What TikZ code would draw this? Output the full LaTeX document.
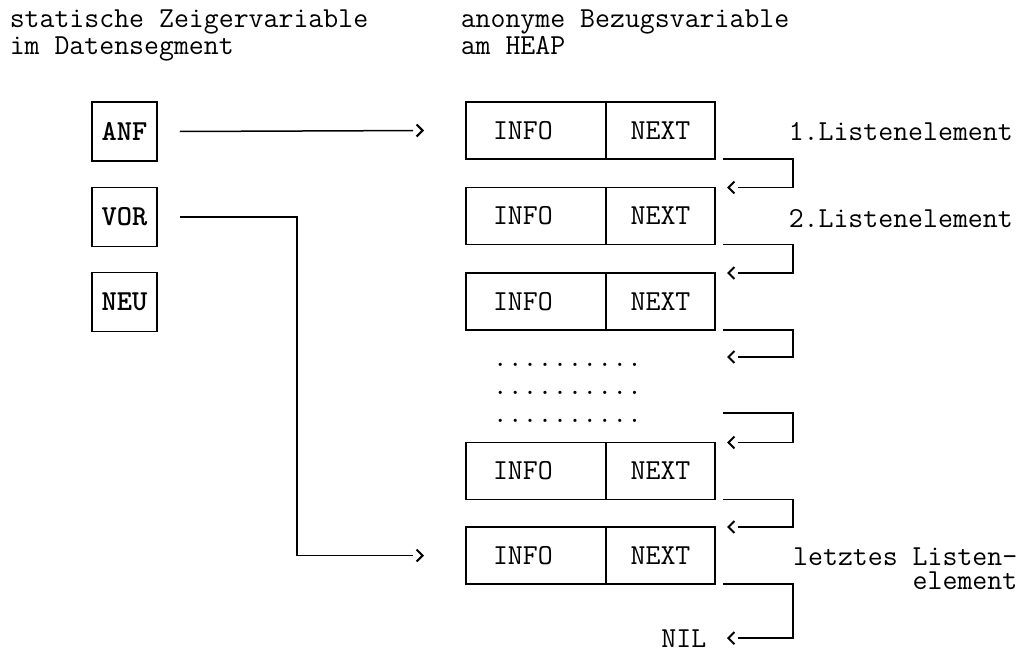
\documentclass[tikz,border=0pt]{standalone}
\usetikzlibrary{arrows.meta}

\newcommand{\listfont}{\ttfamily\fontsize{29}{27}\selectfont}

\tikzset{
  ptrbox/.style={draw, minimum width=65, minimum height=59, inner sep=0pt, font=\listfont\bfseries},
  infocell/.style={draw, outer sep=0pt, minimum height=57, inner xsep=27, inner ysep=0pt,
    text width=86, align=left},
  nextcell/.style={draw, outer sep=0pt, minimum width=109, minimum height=57, inner sep=0pt},
  txt/.style={inner sep=0pt, align=left},
  link/.style={shorten >=11pt},
  chevtip/.style={line width=2pt, -{Straight Barb[length=6pt, width=12pt]}},
}

\begin{document}
\begin{tikzpicture}[x=1pt, y=-1pt, line width=1.5pt, font=\listfont]
    \useasboundingbox (0,0) rectangle (1023,653);

    % headings
    \node[txt, anchor=north west] (hdleft) at (9,9) {statische Zeigervariable\\im Datensegment};
    \node[txt, anchor=north west] (hdright) at (460,9) {anonyme Bezugsvariable\\am HEAP};

    % static pointers
    \node[ptrbox] (anf) at (124.5,131.5) {ANF};
    \node[ptrbox] (vor) at (124.5,217) {VOR};
    \node[ptrbox] (neu) at (124.5,302) {NEU};

    % list elements on the heap
    \foreach \i/\y in {1/130.5, 2/216, 3/301.5, 4/471, 5/555.5} {
        \node[infocell, anchor=east] (info\i) at (606,\y) {INFO};
        \node[nextcell, anchor=west] (next\i) at (info\i.east) {NEXT};
    }
    \node[txt] (dots1) at (567.5,365) {..........};
    \node[txt] (dots2) at (567.5,393) {..........};
    \node[txt] (dots3) at (567.5,421) {..........};

    \node[txt, anchor=base west] (first) at (788,140) {1.Listenelement};
    \node[txt, anchor=base west] (second) at (788,227) {2.Listenelement};
    \node[txt, anchor=north east, align=right, font=\ttfamily\fontsize{29}{24}\selectfont]
        (last) at (1018,547) {letztes Listen-\\element};
    \node[txt, anchor=base east] (nil) at (707,647) {NIL};

    % arrow ends
    \coordinate (anfend) at ([xshift=-42]info1.west);
    \coordinate (vorend) at ([xshift=-42]info5.west);
    \foreach \i in {2,...,5}
        \coordinate (in\i) at ([xshift=12]next\i.north east);
    \coordinate (dotsin) at (727,357);
    \coordinate (dotsout) at (723,413);
    \coordinate (nilin) at ([xshift=20]nil.east);

    % pointers
    \draw[link] ([xshift=22]anf.east) -- (anfend);
    \draw[link] ([xshift=22]vor.east) -- ++(117,0) |- (vorend);

    % NEXT links
    \draw[link] ([xshift=8]next1.south east) -- ++(70,0) |- (in2);
    \draw[link] ([xshift=8]next2.south east) -- ++(70,0) |- (in3);
    \draw[link] ([xshift=8]next3.south east) -- ++(70,0) |- (dotsin);
    \draw[link] (dotsout) -- ++(70,0) |- (in4);
    \draw[link] ([xshift=8]next4.south east) -- ++(70,0) |- (in5);
    \draw[link] ([xshift=8]next5.south east) -- ++(70,0) |- (nilin);

    % chevrons
    \foreach \c in {anfend, vorend}
        \draw[chevtip] ([xshift=-1]\c) -- (\c);
    \foreach \c in {in2, in3, dotsin, in4, in5, nilin}
        \draw[chevtip] ([xshift=1]\c) -- (\c);
\end{tikzpicture}
\end{document}
